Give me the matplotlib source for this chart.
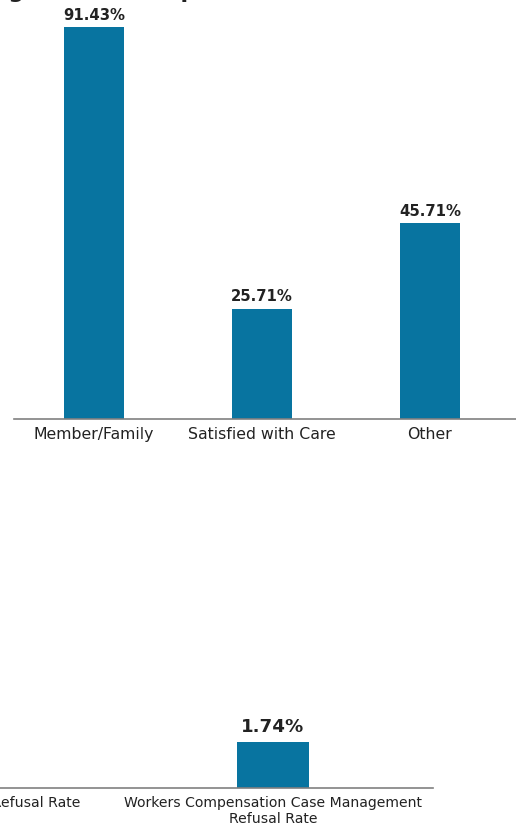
import matplotlib
matplotlib.use('Agg')
import matplotlib.pyplot as plt

plt.rcParams['font.family'] = ['DejaVu Sans']

# reasons chart
reasons = ['Member/Family', 'Satisfied with Care', 'Other']
reason_pct = [91.43, 25.71, 45.71]

# refusal rate chart
rate_labels = ['Disability Management Refusal Rate',
               'Workers Compensation Case Management\nRefusal Rate']
rate_shown = ['Workers Compensation Case Management\nRefusal Rate']
rate_pct = [1.74]

title = 'Reasons for Refusing Services: Top Three'

bar_color = '#0874a0'
axis_color = '#808080'
text_color = '#222222'
W, H = 516, 829

fig = plt.figure(figsize=(W / 100, H / 100), dpi=100)

# title sits mostly above the page; only its descenders show
prefix = 'Reasons for Refusin'
tmp = fig.text(0, 0, prefix, fontsize=15.8, fontweight='bold')
r = fig.canvas.get_renderer()
pw = tmp.get_window_extent(r).width
tmp.remove()
fig.text((8 - pw) / W, 1 + 1.5 / H, title, fontsize=15.8, fontweight='bold',
         va='baseline', ha='left', color=text_color)

# top chart
ax1 = fig.add_axes([14 / W, (H - 420) / H, 502 / W, 420 / H])
x1 = range(len(reasons))
ax1.bar(x1, reason_pct, width=0.357, color=bar_color)
for i, v in zip(x1, reason_pct):
    ax1.annotate(f'{v:.2f}%', (i, v), xytext=(0, 4), textcoords='offset points',
                 ha='center', va='bottom', fontsize=10.7, fontweight='bold', color=text_color)
ax1.set_xticks(list(x1))
ax1.set_xticklabels(reasons, fontsize=11.3, color=text_color)
ax1.set_xlim(-0.476, 2.512)
ax1.set_ylim(0, 98)
ax1.tick_params(axis='x', length=0, pad=5)
ax1.set_yticks([])
for s in ['top', 'left', 'right']:
    ax1.spines[s].set_visible(False)
ax1.spines['bottom'].set_color(axis_color)
ax1.spines['bottom'].set_linewidth(1.2)

# bottom chart (first category runs off the left edge)
ax2 = fig.add_axes([0, 40 / H, 433 / W, 317 / H])
x2 = [rate_labels.index(lbl) for lbl in rate_shown]
ax2.bar(x2, rate_pct, width=0.228, color=bar_color)
for i, v in zip(x2, rate_pct):
    ax2.annotate(f'{v:.2f}%', (i, v), xytext=(0, 5), textcoords='offset points',
                 ha='center', va='bottom', fontsize=13.1, fontweight='bold', color=text_color)
for i, lbl in enumerate(rate_labels):
    ax2.annotate(lbl, (i, 0), xycoords=ax2.get_xaxis_transform(),
                 xytext=(0, -5), textcoords='offset points',
                 ha='center', va='top', multialignment='center',
                 fontsize=10.1, color=text_color, annotation_clip=False)
ax2.set_xticks([])
ax2.set_xlim(0.147, 1.5)
ax2.set_ylim(0, 12)
ax2.set_yticks([])
for s in ['top', 'left', 'right']:
    ax2.spines[s].set_visible(False)
ax2.spines['bottom'].set_color(axis_color)
ax2.spines['bottom'].set_linewidth(1.2)

fig.savefig('out.png', dpi=100)
